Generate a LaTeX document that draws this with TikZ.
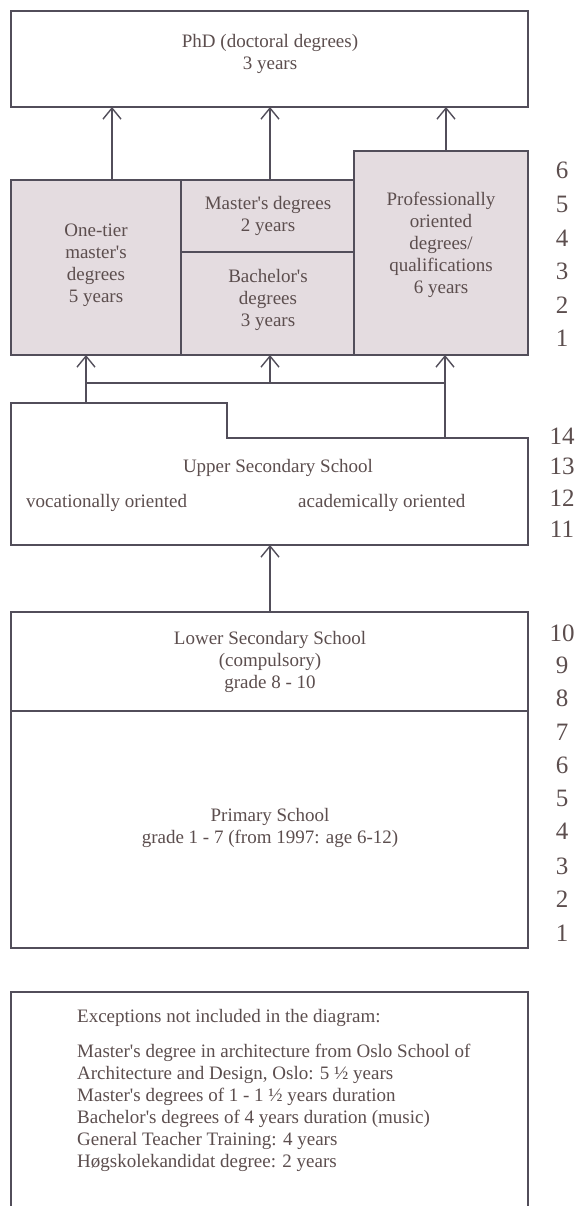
\documentclass[tikz,border=0pt]{standalone}
\usepackage{fontspec}
\setmainfont{Liberation Serif}[Ligatures=TeXOff]
\usetikzlibrary{arrows.meta}
\definecolor{linecol}{RGB}{82,78,90}
\definecolor{textcol}{RGB}{92,78,78}
\definecolor{unifill}{RGB}{228,220,224}
\tikzset{
  boxline/.style={draw=linecol, line width=1.4pt},
  frame/.style={boxline, rectangle, inner sep=0pt, outer sep=0pt},
  unibox/.style={frame, fill=unifill},
  ghost/.style={rectangle, inner sep=0pt, outer sep=0pt},
  txt/.style={text=textcol, font=\fontsize{19}{22}\selectfont, align=center, inner sep=0pt},
  ltxt/.style={text=textcol, font=\fontsize{19}{22}\selectfont, align=left, inner sep=0pt, anchor=west},
  num/.style={text=textcol, font=\fontsize{25}{30}\selectfont, inner sep=0pt},
  conn/.style={draw=linecol, line width=1.4pt},
  arr/.style={conn, -{Straight Barb[length=11pt,width=18pt,line width=1.4pt]}}
}
\begin{document}
\begin{tikzpicture}[x=1pt,y=-1pt]
\useasboundingbox (0,0) rectangle (577,1206);
\fill[white] (0,0) rectangle (577,1206);

% PhD box
\node[frame, minimum width=517pt, minimum height=96pt] (phd) at (269.5,59) {};
\node[txt] (phdt) at (270,53.5) {PhD (doctoral degrees)\\3 years};

% university level boxes
\node[unibox, minimum width=170pt, minimum height=175pt] (onetier) at (96,267.5) {};
\node[unibox, minimum width=173pt, minimum height=72pt] (master) at (267.5,216) {};
\node[unibox, minimum width=173pt, minimum height=103pt] (bachelor) at (267.5,303.5) {};
\node[unibox, minimum width=174pt, minimum height=204pt] (prof) at (441,253) {};
\node[txt] (onetiert) at (96,265.5) {One-tier\\master's\\degrees\\5 years};
\node[txt] (mastert) at (268,215.5) {Master's degrees\\2 years};
\node[txt] (bachelort) at (268,300) {Bachelor's\\degrees\\3 years};
\node[txt] (proft) at (441,245) {Professionally\\oriented\\degrees/\\qualifications\\6 years};

% upper secondary school
\node[ghost, minimum width=517pt, minimum height=142pt] (upper) at (269.5,474) {};
\coordinate (stepc) at (227,438);
\draw[boxline] (upper.north west) -- (stepc |- upper.north) -- (stepc) -- (stepc -| upper.east)
  -- (upper.south east) -- (upper.south west) -- cycle;
\node[txt] (uppert) at (278,468) {Upper Secondary School};
\node[ltxt] (voc) at (26,503) {vocationally oriented};
\node[ltxt] (acad) at (298,503) {academically oriented};

% lower secondary and primary
\node[frame, minimum width=517pt, minimum height=99pt] (lowersec) at (269.5,661.5) {};
\node[frame, minimum width=517pt, minimum height=237pt] (primary) at (269.5,829.5) {};
\node[txt] (lowersect) at (270,661.5) {Lower Secondary School\\(compulsory)\\grade 8 - 10};
\node[txt] (primaryt) at (270,827.5) {Primary School\\grade 1 - 7 (from 1997: age 6-12)};

% connectors
\coordinate (xa) at (112,0);
\coordinate (xm) at (270,0);
\coordinate (xb) at (446,0);
\coordinate (xl) at (86,0);
\coordinate (xr) at (445,0);
\coordinate (hub) at (0,383);
\draw[arr] (onetier.north -| xa) -- (phd.south -| xa);
\draw[arr] (master.north -| xm) -- (phd.south -| xm);
\draw[arr] (prof.north -| xb) -- (phd.south -| xb);
\draw[arr] (upper.north -| xl) -- (onetier.south -| xl);
\draw[conn] (hub -| xl) -- (hub -| xr);
\draw[arr] (hub -| xm) -- (bachelor.south -| xm);
\draw[arr] (stepc -| xr) -- (prof.south -| xr);
\draw[arr] (lowersec.north -| xm) -- (upper.south -| xm);

% year numbers
\node[num] (u6) at (562,170) {6};
\node[num] (u5) at (562,204) {5};
\node[num] (u4) at (562,238) {4};
\node[num] (u3) at (562,271) {3};
\node[num] (u2) at (562,305) {2};
\node[num] (u1) at (562,338) {1};
\node[num] (s14) at (562,436) {14};
\node[num] (s13) at (562,466) {13};
\node[num] (s12) at (562,498) {12};
\node[num] (s11) at (562,529) {11};
\node[num] (g10) at (562,633) {10};
\node[num] (g9) at (562,665) {9};
\node[num] (g8) at (562,698) {8};
\node[num] (g7) at (562,732) {7};
\node[num] (g6) at (562,765) {6};
\node[num] (g5) at (562,798) {5};
\node[num] (g4) at (562,831) {4};
\node[num] (g3) at (562,866) {3};
\node[num] (g2) at (562,899) {2};
\node[num] (g1) at (562,933) {1};

% exceptions box (continues below the visible area)
\draw[boxline] (11,1206) -- (11,992) -- (528,992) -- (528,1206);
\node[ltxt] (exh) at (77,1018) {Exceptions not included in the diagram:};
\node[ltxt, anchor=north west] (exl) at (77,1044) {Master's degree in architecture from Oslo School of\\Architecture and Design, Oslo: 5 ½ years\\Master's degrees of 1 - 1 ½ years duration\\Bachelor's degrees of 4 years duration (music)\\General Teacher Training: 4 years\\Høgskolekandidat degree: 2 years};
\end{tikzpicture}
\end{document}
